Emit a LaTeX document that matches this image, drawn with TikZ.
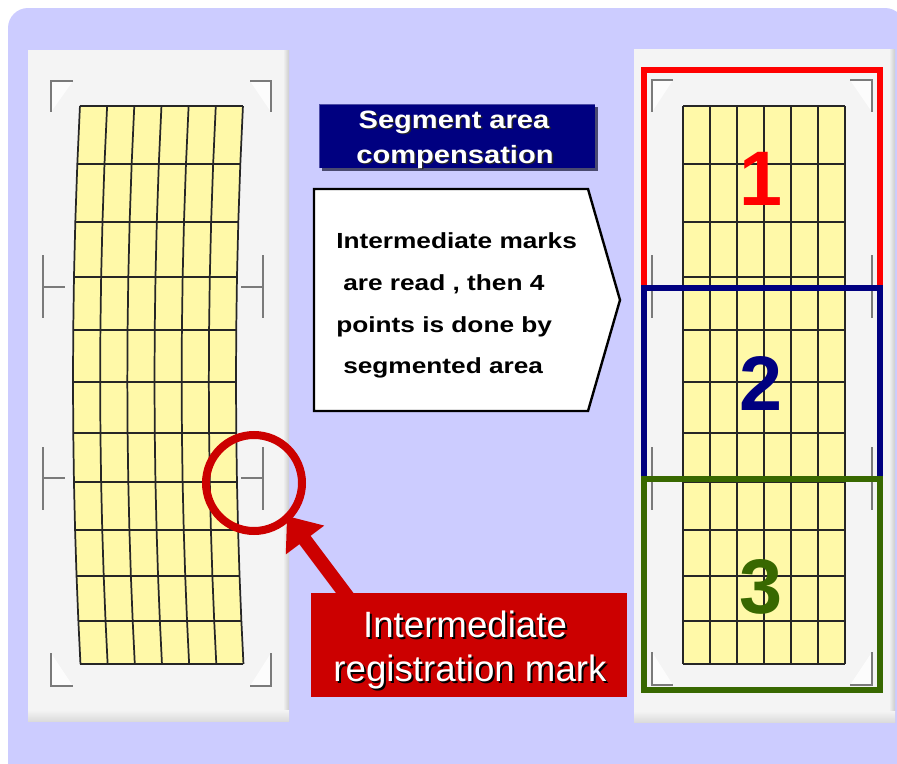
\documentclass[tikz,border=0pt]{standalone}
\usepackage{fontspec}
\setmainfont{Liberation Sans}
\newfontfamily\titlefont[FakeStretch=1.16]{Liberation Sans}
\newfontfamily\boxfont[FakeStretch=1.2]{Liberation Sans}
\usetikzlibrary{arrows.meta}
\definecolor{lav}{HTML}{CCCCFF}
\definecolor{panelgray}{HTML}{F4F4F4}
\definecolor{cellyellow}{HTML}{FFF9A8}
\definecolor{navyblue}{HTML}{000080}
\definecolor{dkgreen}{HTML}{386800}
\definecolor{markred}{HTML}{CC0000}
\definecolor{markgray}{HTML}{7A7A7A}
\definecolor{titleshadow}{HTML}{4A4A70}
\begin{document}
\begin{tikzpicture}[x=0.75pt,y=-0.75pt,
  declare function={xl(\q)=73+7*((\q-380)/275)*((\q-380)/275);},
  gridline/.style={draw=black!85,line width=1.3pt},
  regmark/.style={draw=markgray,line width=1.1pt},
  wedge/.style={fill=white,fill opacity=0.75},
  segbox/.style={line width=4.1pt},
  titletext/.style={font=\titlefont\bfseries\fontsize{18.8}{22}\selectfont,anchor=base,inner sep=0pt},
  boxtext/.style={font=\boxfont\bfseries\fontsize{16.4}{20}\selectfont,anchor=base west,inner sep=0pt,text=black},
  labeltext/.style={font=\fontsize{27.5}{32}\selectfont,anchor=base,inner sep=0pt},
  digit/.style={font=\bfseries\fontsize{58}{60}\selectfont,anchor=base,inner sep=0pt}]
\useasboundingbox (0,0) rectangle (897,764);
\fill[white] (0,0) rectangle (897,764);
\fill[lav,rounded corners=15pt] (8,8) rectangle (905,790);

% ---------- left panel ----------
\fill[panelgray] (28,50) rectangle (289,721);
\shade[left color=panelgray,right color=gray!40] (283,50) rectangle (289,721);
\shade[top color=panelgray,bottom color=gray!28] (28,710) rectangle (289,721);

% distorted grid
\fill[cellyellow] ({xl(106)},106)
  \foreach \y in {164,222,277,330,382,433,482,530,576,621,664} { -- ({xl(\y)},\y) }
  -- ({xl(664)+163},664)
  \foreach \y in {621,576,530,482,433,382,330,277,222,164,106} { -- ({xl(\y)+163},\y) }
  -- cycle;
\foreach \y in {106,164,222,277,330,382,433,482,530,576,621,664}
  \draw[gridline] ({xl(\y)},\y) -- ({xl(\y)+163},\y);
\foreach \k in {0,...,6}
  \draw[gridline,line join=round] ({xl(106)+\k*163/6},106)
    \foreach \y in {164,222,277,330,382,433,482,530,576,621,664} { -- ({xl(\y)+\k*163/6},\y) };

% registration marks (left)
\fill[wedge] (51,81) -- (73,81) -- (51,112) -- cycle;
\fill[wedge] (271,81) -- (250,81) -- (271,112) -- cycle;
\fill[wedge] (51,686) -- (73,686) -- (51,653) -- cycle;
\fill[wedge] (271,686) -- (250,686) -- (271,653) -- cycle;
\draw[regmark] (73,81) -- (51,81) -- (51,112);
\draw[regmark] (250,81) -- (271,81) -- (271,112);
\draw[regmark] (51,653) -- (51,686) -- (73,686);
\draw[regmark] (271,653) -- (271,686) -- (250,686);
\draw[regmark] (43,255) -- (43,318) (43,287) -- (65,287);
\draw[regmark] (43,447) -- (43,510) (43,478) -- (65,478);
\draw[regmark] (263,255) -- (263,318) (241,287) -- (263,287);
\draw[regmark] (263,447) -- (263,510) (241,478) -- (263,478);

% ---------- right panel ----------
\fill[panelgray] (634,49) rectangle (895,722);
\shade[left color=panelgray,right color=gray!40] (889,49) rectangle (895,722);
\shade[top color=panelgray,bottom color=gray!28] (634,711) rectangle (895,722);

\fill[cellyellow] (683,106) rectangle (845,664);
\foreach \y in {106,164,222,277,330,382,433,482,530,576,621,664}
  \draw[gridline] (683,\y) -- (845,\y);
\foreach \k in {0,...,6}
  \draw[gridline] ({683+27*\k},106) -- ({683+27*\k},664);

\fill[wedge] (652,80) -- (673,80) -- (652,112) -- cycle;
\fill[wedge] (872,80) -- (850,80) -- (872,112) -- cycle;
\fill[wedge] (652,685) -- (673,685) -- (652,652) -- cycle;
\fill[wedge] (872,685) -- (850,685) -- (872,652) -- cycle;
\draw[regmark] (673,80) -- (652,80) -- (652,112);
\draw[regmark] (850,80) -- (872,80) -- (872,112);
\draw[regmark] (652,652) -- (652,685) -- (673,685);
\draw[regmark] (872,652) -- (872,685) -- (850,685);
\draw[regmark] (652,255) -- (652,318);
\draw[regmark] (652,447) -- (652,510);
\draw[regmark] (872,255) -- (872,318);
\draw[regmark] (872,447) -- (872,510);

% segment boxes
\draw[segbox,red] (644,70) rectangle (880,288);
\draw[segbox,navyblue] (644,288) rectangle (880,479);
\draw[segbox,dkgreen] (644,479) rectangle (880,690);
\node[digit,text=red] (n1) at (761,205) {1};
\node[digit,text=navyblue] (n2) at (761,410) {2};
\node[digit,text=dkgreen] (n3) at (761,613) {3};

% ---------- title ----------
\fill[titleshadow] (322,107) rectangle (598,171);
\fill[navyblue] (319,104) rectangle (595,168);
\draw[navyblue!70!white,line width=0.8pt] (319.5,168) -- (319.5,104.5) -- (595,104.5);
\node[titletext,text=black!85] at (455.5,129.5) {Segment area};
\node[titletext,text=white] (title1) at (454,128) {Segment area};
\node[titletext,text=black!85] at (456.5,164.5) {compensation};
\node[titletext,text=white] (title2) at (455,163) {compensation};

% ---------- explanation box ----------
\draw[line width=1.8pt,fill=white,line join=miter]
  (314,189) -- (588,189) -- (620,300) -- (588,411) -- (314,411) -- cycle;
\node[boxtext] (t1) at (336,248) {Intermediate marks};
\node[boxtext] (t2) at (343,290) {are read , then 4};
\node[boxtext] (t3) at (336,332) {points is done by};
\node[boxtext] (t4) at (343,373) {segmented area};

% ---------- circle + arrow + label ----------
\draw[markred,line width=6pt] (254,483) circle[radius=48];
\coordinate (arrowtail) at (350,600);
\coordinate (arrowtip) at (287,516);
\draw[markred,line width=10.5pt,-{Triangle[length=22.5pt,width=34.5pt]}] (arrowtail) -- (arrowtip);
\fill[markred] (311,593) rectangle (627,697);
\node[labeltext,text=black] at (467,639) {Intermediate};
\node[labeltext,text=white] (lab1) at (465,637) {Intermediate};
\node[labeltext,text=black] at (472,683) {registration mark};
\node[labeltext,text=white] (lab2) at (470,681) {registration mark};
\end{tikzpicture}
\end{document}
